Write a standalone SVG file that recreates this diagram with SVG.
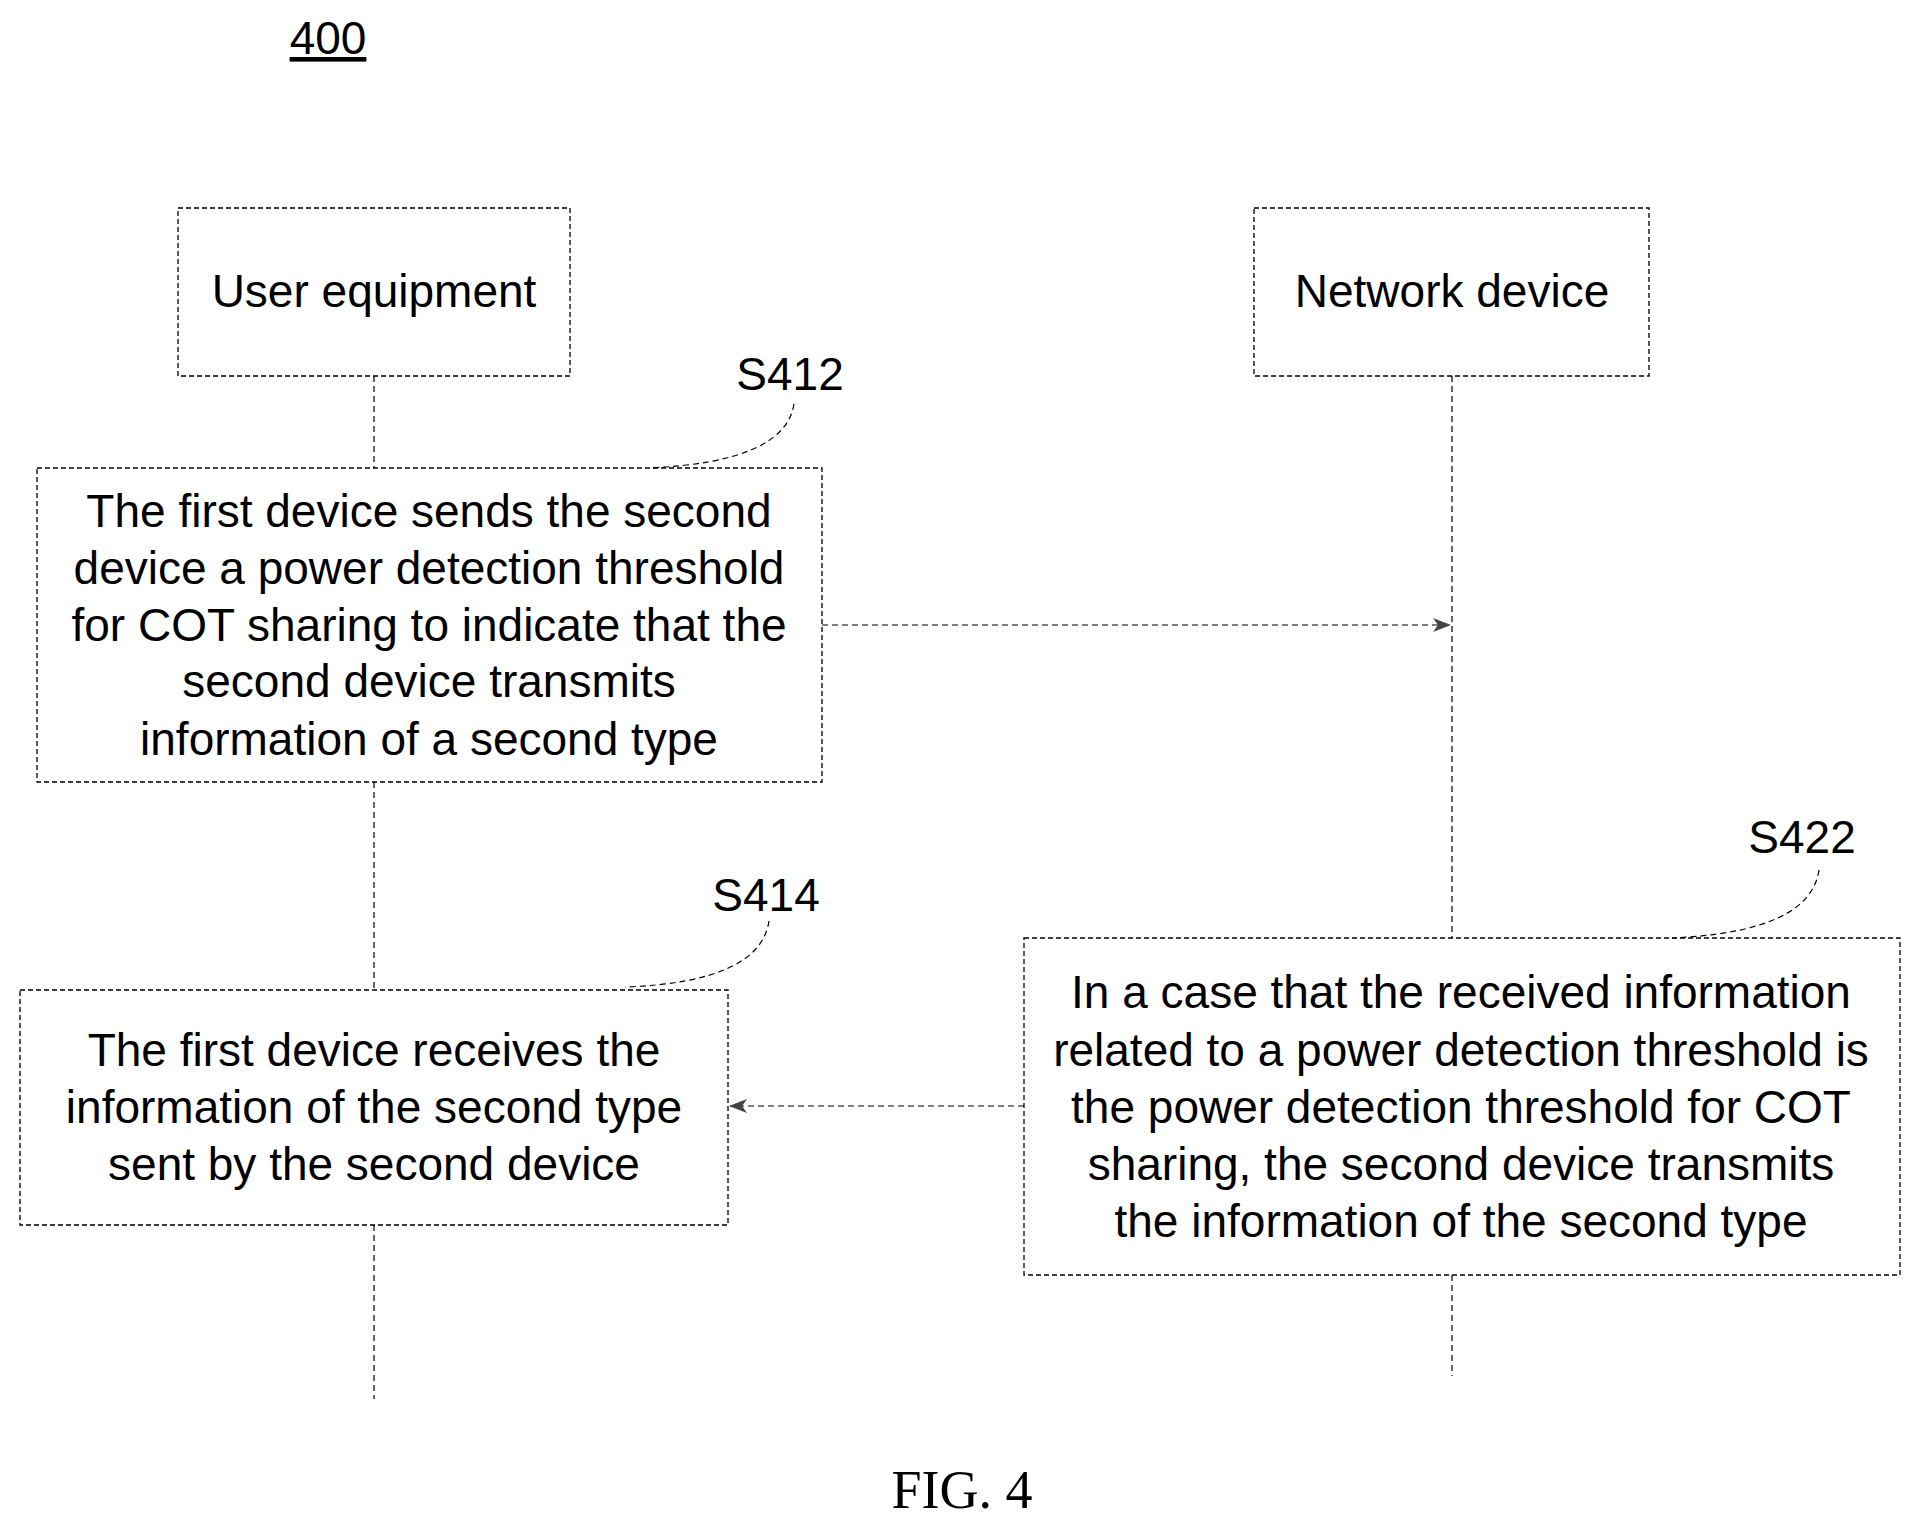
<svg xmlns="http://www.w3.org/2000/svg" width="1915" height="1523" viewBox="0 0 1915 1523">
<style>
.b{fill:none;stroke:#000;stroke-width:1.3;stroke-dasharray:5,3}
.l{fill:none;stroke:#000;stroke-width:1.2;stroke-dasharray:6,4}
.t{font-family:"Liberation Sans",Arial,sans-serif;font-size:46px;text-anchor:middle;fill:#000}
</style>
<defs>
<marker id="a" markerWidth="18" markerHeight="14" refX="17" refY="7" orient="auto" markerUnits="userSpaceOnUse">
<path d="M0,0 L18,7 L0,14 L5,7 Z" fill="#444"/>
</marker>
</defs>
<rect width="1915" height="1523" fill="#fff"/>
<text class="t" x="328" y="54" text-decoration="underline">400</text>
<g id="connectors">
<path class="l" d="M374,376 V468 M374,782 V990 M374,1225 V1399"/>
<path class="l" d="M1452,376 V938 M1452,1275 V1376"/>
<path class="l" d="M822,625 H1450" marker-end="url(#a)"/>
<path class="l" d="M1024,1106 H730" marker-end="url(#a)"/>
<path class="l" d="M794,404 Q785,462 649,468"/>
<path class="l" d="M769,921 Q760,982 625,987"/>
<path class="l" d="M1819,870 Q1810,932 1672,938"/>
</g>
<g id="ue"><rect class="b" x="178" y="208" width="392" height="168"/><text class="t" x="374" y="307">User equipment</text></g>
<g id="nd"><rect class="b" x="1254" y="208" width="395" height="168"/><text class="t" x="1452" y="307">Network device</text></g>
<g id="s412"><text class="t" x="790" y="390">S412</text>
<rect class="b" x="37" y="468" width="785" height="314"/>
<text class="t" x="429" y="527">The first device sends the second</text>
<text class="t" x="429" y="584">device a power detection threshold</text>
<text class="t" x="429" y="641">for COT sharing to indicate that the</text>
<text class="t" x="429" y="697">second device transmits</text>
<text class="t" x="429" y="755">information of a second type</text></g>
<g id="s414"><text class="t" x="766" y="911">S414</text>
<rect class="b" x="20" y="990" width="708" height="235"/>
<text class="t" x="374" y="1066">The first device receives the</text>
<text class="t" x="374" y="1123">information of the second type</text>
<text class="t" x="374" y="1180">sent by the second device</text></g>
<g id="s422"><text class="t" x="1802" y="853">S422</text>
<rect class="b" x="1024" y="938" width="876" height="337"/>
<text class="t" x="1461" y="1008">In a case that the received information</text>
<text class="t" x="1461" y="1066">related to a power detection threshold is</text>
<text class="t" x="1461" y="1123">the power detection  threshold for COT</text>
<text class="t" x="1461" y="1180">sharing, the second device transmits</text>
<text class="t" x="1461" y="1237">the information of the second type</text></g>
<text x="962" y="1508" style="font-family:'Liberation Serif',serif;font-size:54px;text-anchor:middle">FIG. 4</text>
</svg>
